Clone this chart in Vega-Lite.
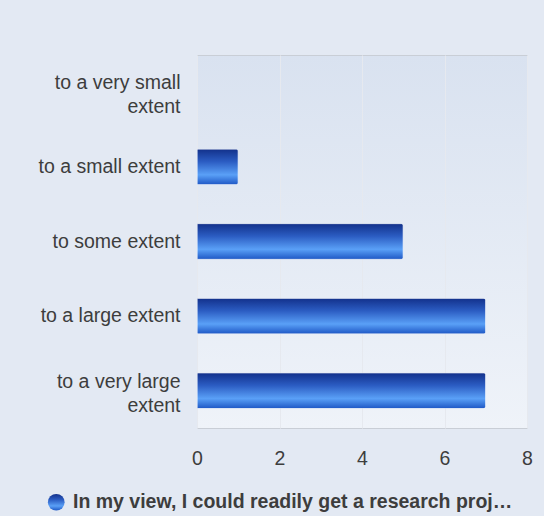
{
  "$schema": "https://vega.github.io/schema/vega-lite/v6.json",
  "width": 330,
  "height": 373,
  "autosize": {"type": "none"},
  "padding": {"left": 197, "top": 55, "right": 17, "bottom": 88},
  "background": "#e3e9f3",
  "config": {
    "font": "Liberation Sans",
    "view": {
      "stroke": "#c9ced6",
      "strokeWidth": 1,
      "fill": {"gradient": "linear", "x1": 0, "y1": 0, "x2": 0, "y2": 1, "stops": [{"offset": 0, "color": "#d9e2f0"}, {"offset": 1, "color": "#eff3f9"}]}
    }
  },
  "data": {
    "values": [
      {"answer": "to a very small extent", "count": 0, "series": "In my view, I could readily get a research proj…"},
      {"answer": "to a small extent", "count": 1, "series": "In my view, I could readily get a research proj…"},
      {"answer": "to some extent", "count": 5, "series": "In my view, I could readily get a research proj…"},
      {"answer": "to a large extent", "count": 7, "series": "In my view, I could readily get a research proj…"},
      {"answer": "to a very large extent", "count": 7, "series": "In my view, I could readily get a research proj…"}
    ]
  },
  "mark": {"type": "bar", "strokeWidth": 1, "cornerRadiusEnd": 3},
  "encoding": {
    "y": {
      "field": "answer",
      "type": "nominal",
      "sort": null,
      "scale": {"paddingInner": 0.52, "paddingOuter": 0.26},
      "axis": {
        "title": null,
        "ticks": false,
        "domain": false,
        "grid": false,
        "labelFontSize": 19.5,
        "labelColor": "#3d3d3d",
        "labelPadding": 17,
        "labelLimit": 300,
        "labelLineHeight": 24,
        "labelExpr": "datum.value == 'to a very small extent' ? ['to a very small', 'extent'] : datum.value == 'to a very large extent' ? ['to a very large', 'extent'] : datum.value",
        "labelOffset": {"condition": {"test": "length(datum.value) > 20", "value": -9}, "value": 0}
      }
    },
    "x": {
      "field": "count",
      "type": "quantitative",
      "scale": {"domain": [0, 8]},
      "axis": {
        "title": null,
        "values": [0, 2, 4, 6, 8],
        "ticks": false,
        "domain": false,
        "grid": true,
        "gridColor": "#e6e9ef",
        "labelFontSize": 19.5,
        "labelColor": "#3d3d3d",
        "labelPadding": 21,
        "labelFlush": false
      }
    },
    "fill": {"value": {"gradient": "linear", "x1": 0, "y1": 0, "x2": 0, "y2": 1, "stops": [{"offset": 0, "color": "#12308a"}, {"offset": 0.35, "color": "#2b5cc2"}, {"offset": 0.72, "color": "#5aa0f7"}, {"offset": 1, "color": "#1d56c4"}]}},
    "stroke": {
      "field": "series",
      "type": "nominal",
      "scale": {"range": ["#ffffff"]},
      "legend": {
        "title": null,
        "orient": "none",
        "legendX": -150.5,
        "legendY": 437.5,
        "symbolType": "circle",
        "symbolSize": 280,
        "symbolStrokeWidth": 0,
        "symbolFillColor": "#2f6bd0",
        "labelFontSize": 19.5,
        "labelFontWeight": "bold",
        "labelColor": "#3d3d3d",
        "labelLimit": 0,
        "labelOffset": 7,
        "encode": {"symbols": {"update": {"fill": {"value": {"gradient": "linear", "x1": 0, "y1": 0, "x2": 1, "y2": 0, "stops": [{"offset": 0, "color": "#4a95f2"}, {"offset": 1, "color": "#15409e"}]}}}}}
      }
    }
  }
}
